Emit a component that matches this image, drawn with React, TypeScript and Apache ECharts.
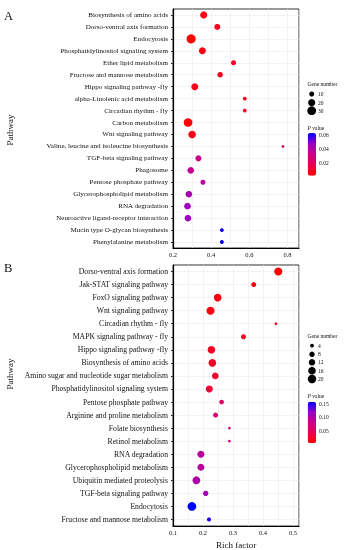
import React, { useEffect, useRef } from "react";
import * as echarts from "echarts";

const catsA = [
  "Biosynthesis of amino acids",
  "Dorso-ventral axis formation",
  "Endocytosis",
  "Phosphatidylinositol signaling system",
  "Ether lipid metabolism",
  "Fructose and mannose metabolism",
  "Hippo signaling pathway -fly",
  "alpha-Linolenic acid metabolism",
  "Circadian rhythm - fly",
  "Carbon metabolism",
  "Wnt signaling pathway",
  "Valine, leucine and isoleucine biosynthesis",
  "TGF-beta signaling pathway",
  "Phagosome",
  "Pentose phosphate pathway",
  "Glycerophospholipid metabolism",
  "RNA degradation",
  "Neuroactive ligand-receptor interaction",
  "Mucin type O-glycan biosynthesis",
  "Phenylalanine metabolism",
];
const richA = [0.361, 0.432, 0.295, 0.354, 0.517, 0.447, 0.314, 0.576, 0.576, 0.279, 0.3, 0.776, 0.333, 0.293, 0.357, 0.283, 0.276, 0.278, 0.456, 0.456];
const genesA = [20, 14, 32, 19, 10, 12, 19, 6, 6, 29, 22, 3, 14, 17, 10, 17, 17, 17, 6, 6];
const pA = [0.006, 0.008, 0.002, 0.006, 0.01, 0.008, 0.007, 0.009, 0.009, 0.004, 0.006, 0.026, 0.033, 0.035, 0.038, 0.044, 0.046, 0.047, 0.0615, 0.0635];

const catsB = [
  "Dorso-ventral axis formation",
  "Jak-STAT signaling pathway",
  "FoxO signaling pathway",
  "Wnt signaling pathway",
  "Circadian rhythm - fly",
  "MAPK signaling pathway - fly",
  "Hippo signaling pathway -fly",
  "Biosynthesis of amino acids",
  "Amino sugar and nucleotide sugar metabolism",
  "Phosphatidylinositol signaling system",
  "Pentose phosphate pathway",
  "Arginine and proline metabolism",
  "Folate biosynthesis",
  "Retinol metabolism",
  "RNA degradation",
  "Glycerophospholipid metabolism",
  "Ubiquitin mediated proteolysis",
  "TGF-beta signaling pathway",
  "Endocytosis",
  "Fructose and mannose metabolism",
];
const richB = [0.451, 0.369, 0.249, 0.225, 0.443, 0.335, 0.228, 0.231, 0.241, 0.221, 0.262, 0.242, 0.288, 0.288, 0.193, 0.193, 0.178, 0.209, 0.163, 0.22];
const genesB = [18, 7, 16, 18, 2, 7, 16, 16, 12, 14, 6, 7, 2, 2, 14, 13, 17, 8, 21, 5];
const pB = [0.002, 0.01, 0.01, 0.012, 0.015, 0.02, 0.02, 0.02, 0.025, 0.028, 0.057, 0.068, 0.072, 0.072, 0.094, 0.094, 0.105, 0.113, 0.16, 0.15];

const sizeLegendA = [10, 20, 30];
const sizeLegendB = [4, 8, 12, 16, 20];
const pTicksA = [0.02, 0.04, 0.06];
const pTicksB = [0.05, 0.1, 0.15];

const FONT = "Liberation Serif";
const GRAD = ["#FF0000", "#E8004F", "#CA0089", "#9A00C3", "#0000FF"];
const TXT = "#111";

const sizeA = (n: number) => 1.6 * Math.sqrt(n);
const sizeB = (n: number) => 1.9 * Math.sqrt(n);

export default function App() {
  const ref = useRef<HTMLDivElement>(null);
  useEffect(() => {
    if (!ref.current) return;
    const chart = echarts.init(ref.current, null, { renderer: "svg" });

    const gridLeft = 173;
    const gridRight = 47;
    const gA = { top: 9, height: 239 };
    const gB = { top: 265, height: 261 };

    const vmA = { min: 0.002, max: 0.0635, top: 133, h: 42.7 };
    const vmB = { min: 0.002, max: 0.16, top: 401.7, h: 41.6 };

    const mkX = (idx: number, min: number, max: number, interval: number, major: number, showName: boolean) => ({
      type: "value",
      gridIndex: idx,
      min,
      max,
      interval,
      name: showName ? "Rich factor" : "",
      nameLocation: "middle",
      nameGap: 14,
      nameTextStyle: { fontFamily: FONT, fontSize: 9, color: TXT },
      axisLine: { show: true, lineStyle: { color: "#000", width: 1.2 } },
      axisTick: { show: false },
      axisLabel: {
        fontFamily: FONT,
        fontSize: 6.5,
        color: TXT,
        margin: 3,
        showMaxLabel: false,
        formatter: (v: number) => {
          const k = v / major;
          return Math.abs(k - Math.round(k)) < 1e-6 ? String(Number(v.toFixed(2))) : "";
        },
      },
      splitLine: { show: true, lineStyle: { color: "#ebebeb", width: 0.6 } },
    });

    const mkY = (idx: number, cats: string[], fs: number) => ({
      type: "category",
      gridIndex: idx,
      data: cats,
      inverse: true,
      boundaryGap: true,
      axisLine: { show: true, lineStyle: { color: "#000", width: 1.2 } },
      axisTick: { show: true, alignWithLabel: true, length: 2, lineStyle: { color: "#333" } },
      axisLabel: { fontFamily: FONT, fontSize: fs, color: TXT, margin: 5, interval: 0 },
      splitLine: { show: true, alignWithLabel: true, interval: 0, lineStyle: { color: "#ebebeb", width: 0.6 } },
    });

    const graphics: any[] = [];
    const txt = (x: number, y: number, text: string, fs: number, extra: any = {}) => ({
      type: "text",
      x,
      y,
      ...extra,
      style: { text, fontFamily: FONT, fontSize: fs, fill: TXT, verticalAlign: "middle", align: "left", ...(extra.style || {}) },
    });
    graphics.push(txt(4, 16, "A", 12.5));
    graphics.push(txt(4, 268, "B", 12.5));
    graphics.push({ ...txt(10, 130, "Pathway", 9, { rotation: Math.PI / 2, style: { align: "center" } }) });
    graphics.push({ ...txt(10, 374, "Pathway", 9, { rotation: Math.PI / 2, style: { align: "center" } }) });

    graphics.push(txt(307.5, 84, "Gene number", 5.5));
    const yA = [94, 102.7, 110.7];
    sizeLegendA.forEach((n, i) => {
      graphics.push({ type: "circle", shape: { cx: 311.7, cy: yA[i], r: sizeA(n) / 2 }, style: { fill: "#000" } });
      graphics.push(txt(318, yA[i], String(n), 5.5));
    });
    graphics.push(txt(307.5, 336, "Gene number", 5.5));
    const yB = [345.7, 354.3, 362.3, 370.7, 379];
    sizeLegendB.forEach((n, i) => {
      graphics.push({ type: "circle", shape: { cx: 312, cy: yB[i], r: sizeB(n) / 2 }, style: { fill: "#000" } });
      graphics.push(txt(318, yB[i], String(n), 5.5));
    });

    const pTitle = (y: number) => ({
      type: "text",
      x: 307.5,
      y,
      style: {
        text: "{i|P} value",
        fontFamily: FONT,
        fontSize: 5.5,
        fill: TXT,
        verticalAlign: "middle",
        rich: { i: { fontStyle: "italic", fontFamily: FONT, fontSize: 5.5 } },
      },
    });
    graphics.push(pTitle(127.7));
    graphics.push(pTitle(396));
    pTicksA.forEach((v) => {
      const y = vmA.top + ((vmA.max - v) / (vmA.max - vmA.min)) * vmA.h;
      graphics.push(txt(319, y, v.toFixed(2), 5.5));
    });
    pTicksB.forEach((v) => {
      const y = vmB.top + ((vmB.max - v) / (vmB.max - vmB.min)) * vmB.h;
      graphics.push(txt(319, y, v.toFixed(2), 5.5));
    });

    chart.setOption({
      animation: false,
      backgroundColor: "#fff",
      grid: [
        { left: gridLeft, right: gridRight, top: gA.top, height: gA.height, show: true, borderColor: "#333", borderWidth: 1, containLabel: false, outerBoundsMode: "none" },
        { left: gridLeft, right: gridRight, top: gB.top, height: gB.height, show: true, borderColor: "#333", borderWidth: 1, containLabel: false, outerBoundsMode: "none" },
      ],
      xAxis: [mkX(0, 0.2, 0.86, 0.1, 0.2, false), mkX(1, 0.1, 0.52, 0.05, 0.1, true)],
      yAxis: [mkY(0, catsA, 7.1), mkY(1, catsB, 7.7)],
      visualMap: [
        {
          type: "continuous",
          seriesIndex: 0,
          dimension: 3,
          min: vmA.min,
          max: vmA.max,
          left: 307.7,
          top: vmA.top,
          itemWidth: 8.5,
          itemHeight: vmA.h,
          padding: 0,
          calculable: false,
          inRange: { color: GRAD },
          textStyle: { fontSize: 0 },
        },
        {
          type: "continuous",
          seriesIndex: 1,
          dimension: 3,
          min: vmB.min,
          max: vmB.max,
          left: 307.7,
          top: vmB.top,
          itemWidth: 8.5,
          itemHeight: vmB.h,
          padding: 0,
          calculable: false,
          inRange: { color: GRAD },
          textStyle: { fontSize: 0 },
        },
      ],
      series: [
        {
          type: "scatter",
          xAxisIndex: 0,
          yAxisIndex: 0,
          data: catsA.map((c, i) => [richA[i], c, genesA[i], pA[i]]),
          symbolSize: (v: any) => sizeA(v[2]),
          itemStyle: { opacity: 1 },
        },
        {
          type: "scatter",
          xAxisIndex: 1,
          yAxisIndex: 1,
          data: catsB.map((c, i) => [richB[i], c, genesB[i], pB[i]]),
          symbolSize: (v: any) => sizeB(v[2]),
          itemStyle: { opacity: 1 },
        },
      ],
      graphic: graphics,
    });
    return () => chart.dispose();
  }, []);
  return (
    <div
      ref={ref}
      style={{ position: "absolute", left: 0, top: 0, width: 346, height: 550, willChange: "transform", background: "transparent" }}
    />
  );
}
